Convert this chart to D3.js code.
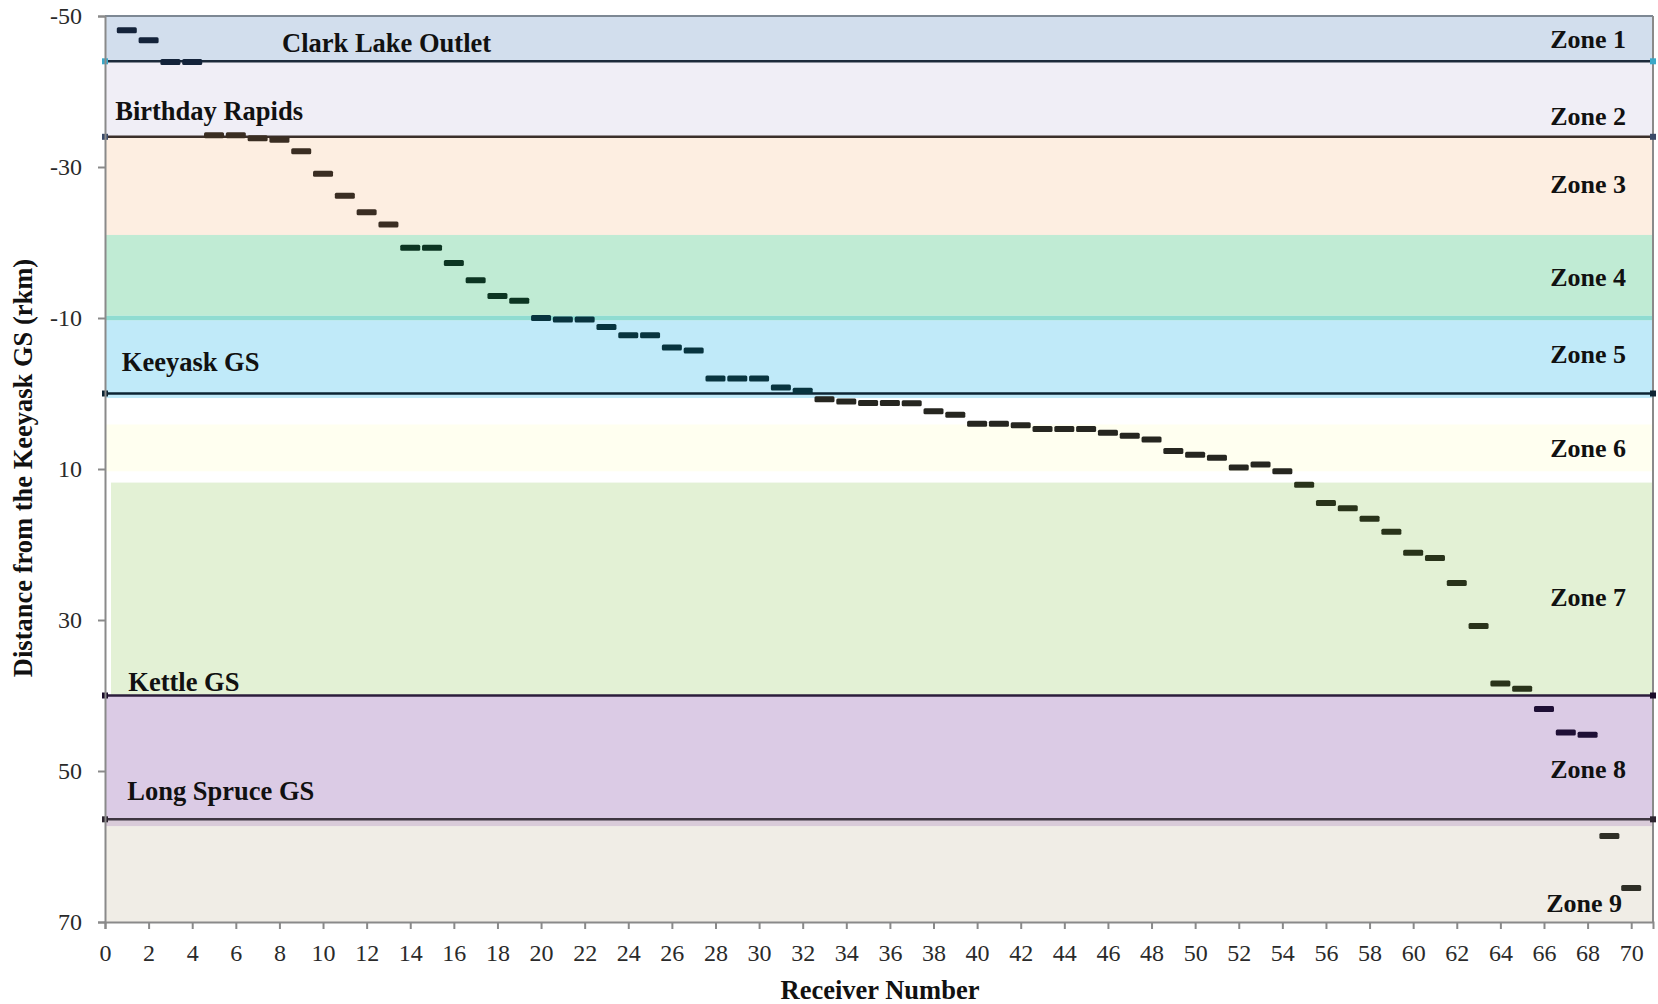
<!DOCTYPE html>
<html>
<head>
<meta charset="utf-8">
<script src="https://d3js.org/d3.v7.min.js"></script>
<style>
  body { margin: 0; background: #fff; }
  text { font-family: "Liberation Serif", "Times New Roman", serif; }
</style>
</head>
<body>
<div id="chart"></div>
<script>
// receiver numbers and distance from Keeyask GS (rkm)
var receivers = d3.range(1, 71);
var distances = [
  -48.1, -46.8, -43.9, -43.9, -34.2, -34.2, -33.8, -33.6, -32.1, -29.1,
  -26.2, -24.0, -22.4, -19.3, -19.3, -17.3, -15.0, -12.9, -12.3, -10.0,
  -9.8, -9.8, -8.8, -7.7, -7.7, -6.1, -5.7, -2.0, -2.0, -2.0,
  -0.8, -0.35, 0.75, 1.05, 1.25, 1.25, 1.3, 2.35, 2.8, 4.0,
  4.0, 4.2, 4.7, 4.7, 4.7, 5.2, 5.6, 6.1, 7.6, 8.1,
  8.5, 9.8, 9.4, 10.3, 12.1, 14.5, 15.2, 16.6, 18.3, 21.1,
  21.8, 25.1, 30.8, 38.4, 39.1, 41.8, 44.9, 45.2, 58.6, 65.5
];

// zone bands (from, to in rkm)
var zoneNames = ["Zone 1", "Zone 2", "Zone 3", "Zone 4", "Zone 5", "Zone 6", "Zone 7", "Zone 8", "Zone 9"];
var zoneFrom  = [-50, -44, -34, -21, -9.7, 4.1, 11.8, 40, 57.3];
var zoneTo    = [-44, -34, -21, -10.3, 0.6, 10.3, 40, 56.4, 70];
var zoneLabelAt = [-47.0, -36.8, -27.7, -15.5, -5.2, 7.15, 27.0, 49.75, 67.5];

// sites (line positions, rkm)
var siteNames = ["Clark Lake Outlet", "Birthday Rapids", "Keeyask GS", "Kettle GS", "Long Spruce GS"];
var siteAt    = [-44, -34, 0, 40, 56.4];
var siteLabelAt = [-46.5, -37.4, -4.2, 38.2, 52.6];
var siteLabelX  = [8.12, 0.47, 0.77, 1.07, 1.02];

var yTicks = [-50, -30, -10, 10, 30, 50, 70];
var xTicks = d3.range(0, 71, 2);

var W = 1658, H = 1004;
var margin = {top: 16, right: 5, bottom: 82, left: 105};
var width = W - margin.left - margin.right,
    height = H - margin.top - margin.bottom;

var svg = d3.select("#chart").append("svg")
  .attr("width", W).attr("height", H);
var g = svg.append("g")
  .attr("transform", "translate(" + margin.left + "," + margin.top + ")");

var x = d3.scaleLinear().domain([0, 71]).range([0, width]);
var y = d3.scaleLinear().domain([-50, 70]).range([0, height]);

var bandColors = ["#d2deed", "#f0eef6", "#fdeee1", "#c0ebd4", "#c0eaf9", "#fffff0", "#e3f1d5", "#dbcbe5", "#f0ede6"];
var lineColors = ["#1c2a3a", "#3b2f2a", "#0d2433", "#2b1d3b", "#3d3540"];
var markerColors = ["#3aa8c8", "#3a4a68", "#0d2433", "#1b0d2b", "#2d2530"];

// bands
g.selectAll(".band").data(zoneNames).enter().append("rect")
  .attr("class", "band")
  .attr("x", function(d, i) { return i === 6 ? 6 : 0; })
  .attr("width", function(d, i) { return i === 6 ? width - 6 : width; })
  .attr("y", function(d, i) { return y(zoneFrom[i]); })
  .attr("height", function(d, i) { return y(zoneTo[i]) - y(zoneFrom[i]); })
  .attr("fill", function(d, i) { return bandColors[i]; });

// thin teal strip between zone 4 and 5, and strip under Long Spruce line
g.append("rect").attr("x", 0).attr("width", width)
  .attr("y", y(-10.3)).attr("height", y(-9.7) - y(-10.3)).attr("fill", "#8fdcd1");
g.append("rect").attr("x", 0).attr("width", width)
  .attr("y", y(56.4)).attr("height", y(57.3) - y(56.4)).attr("fill", "#d9cbd9");

// frame
g.append("line").attr("x1", 0).attr("x2", width).attr("y1", 0).attr("y2", 0)
  .attr("stroke", "#7d8894").attr("stroke-width", 2);
g.append("line").attr("x1", width).attr("x2", width).attr("y1", 0).attr("y2", height)
  .attr("stroke", "#8a8a8a").attr("stroke-width", 2);

// site lines
g.selectAll(".site").data(siteNames).enter().append("line")
  .attr("class", "site")
  .attr("x1", 0).attr("x2", width)
  .attr("y1", function(d, i) { return y(siteAt[i]); })
  .attr("y2", function(d, i) { return y(siteAt[i]); })
  .attr("stroke", function(d, i) { return lineColors[i]; })
  .attr("stroke-width", 2.5);

[0, 71].forEach(function(xv) {
  g.selectAll(null).data(siteNames).enter().append("rect")
    .attr("x", x(xv) - 3).attr("width", 6)
    .attr("y", function(d, i) { return y(siteAt[i]) - 3; })
    .attr("height", 6)
    .attr("fill", function(d, i) { return markerColors[i]; });
});

// axes
var fmt = function(d) { return String(d); };
var yAxis = g.append("g").call(d3.axisLeft(y).tickValues(yTicks).tickFormat(fmt).tickSize(7).tickPadding(16));
var xAxis = g.append("g").attr("transform", "translate(0," + height + ")")
  .call(d3.axisBottom(x).tickValues(xTicks).tickFormat(fmt).tickSize(7).tickPadding(15));
[xAxis, yAxis].forEach(function(a) {
  a.select(".domain").attr("stroke", "#8a8a8a").attr("stroke-width", 2);
  a.selectAll(".tick line").attr("stroke", "#8a8a8a").attr("stroke-width", 2);
  a.selectAll(".tick text").attr("fill", "#2a2a2a")
    .style("font-family", "'Liberation Serif', serif").style("font-size", "24px");
});

// receiver dashes
var dashColor = d3.scaleThreshold()
  .domain([-40, -20.5, -11, 0.5, 11, 40, 56])
  .range(["#14233a", "#3a2d22", "#0c3522", "#08343f", "#262620", "#29331a", "#1e0f35", "#2e2e26"]);

g.selectAll(".dash").data(receivers).enter().append("rect")
  .attr("class", "dash")
  .attr("x", function(d) { return x(d) - 10; })
  .attr("width", 20)
  .attr("y", function(d, i) { return y(distances[i]) - 3; })
  .attr("height", 6).attr("rx", 1.5)
  .attr("fill", function(d, i) { return dashColor(distances[i]); });

// labels
g.selectAll(".zlab").data(zoneNames).enter().append("text")
  .attr("x", function(d, i) { return i === 8 ? width - 31 : width - 27; })
  .attr("y", function(d, i) { return y(zoneLabelAt[i]); })
  .attr("dy", "0.35em")
  .attr("text-anchor", "end")
  .style("font-weight", "bold").style("font-size", "26px").attr("fill", "#111")
  .text(function(d) { return d; });

g.selectAll(".slab").data(siteNames).enter().append("text")
  .attr("x", function(d, i) { return x(siteLabelX[i]); })
  .attr("y", function(d, i) { return y(siteLabelAt[i]); })
  .attr("dy", "0.35em")
  .style("font-weight", "bold").style("font-size", "26.5px").attr("fill", "#111")
  .text(function(d) { return d; });

// axis titles
svg.append("text")
  .attr("x", 880).attr("y", 999)
  .attr("text-anchor", "middle")
  .style("font-weight", "bold").style("font-size", "26.5px").attr("fill", "#111")
  .text("Receiver Number");

svg.append("text")
  .attr("transform", "translate(32," + 468 + ") rotate(-90)")
  .attr("text-anchor", "middle")
  .style("font-weight", "bold").style("font-size", "26.5px").attr("fill", "#111")
  .text("Distance from the Keeyask GS (rkm)");
</script>
</body>
</html>
